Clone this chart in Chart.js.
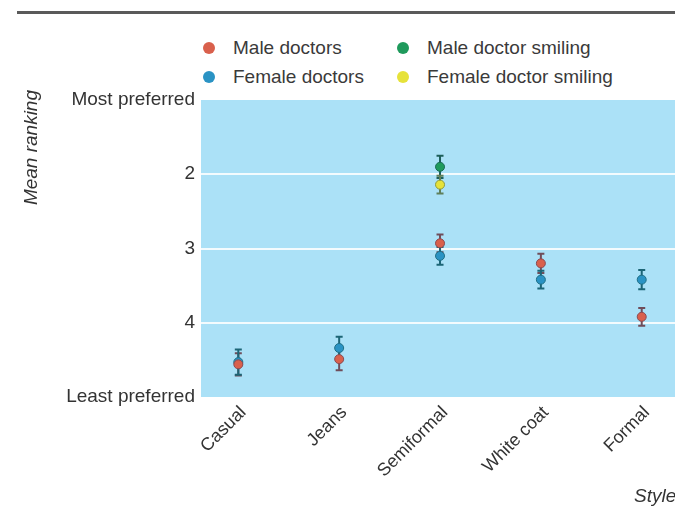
<!DOCTYPE html>
<html>
<head>
<meta charset="utf-8">
<script src="https://cdn.jsdelivr.net/npm/chart.js@4.4.1/dist/chart.umd.min.js"></script>
<style>
  html, body { margin: 0; padding: 0; background: #ffffff; }
  #wrap { position: relative; width: 675px; height: 508px; overflow: hidden; }
  #rule { position: absolute; left: 17px; top: 11px; width: 658px; height: 3px; background: #5a5a5a; }
  #legend { position: absolute; left: 203px; top: 36px; display: grid;
            grid-template-columns: 194px 260px; row-gap: 5px;
            font-family: "Liberation Sans", Arial, sans-serif;
            font-size: 19px; color: #3a3a3a; }
  .item { display: flex; align-items: center; height: 24px; white-space: nowrap; }
  .dot { width: 12px; height: 12px; border-radius: 50%; margin-right: 18px; }
  canvas { position: absolute; left: 0; top: 0; }
</style>
</head>
<body>
<div id="wrap">
  <div id="rule"></div>
  <div id="legend"></div>
  <canvas id="c" width="675" height="508"></canvas>
</div>
<script>
// Clothing styles along the x axis
const categories = ["Casual", "Jeans", "Semiformal", "White coat", "Formal"];

// Mean ranking (1 = most preferred, 5 = least preferred) and error half-widths
const maleDoctors      = [4.56, 4.49, 2.93, 3.20, 3.92];
const maleDoctorsErr   = [0.15, 0.15, 0.12, 0.13, 0.12];
const femaleDoctors    = [4.53, 4.34, 3.10, 3.42, 3.42];
const femaleDoctorsErr = [0.17, 0.15, 0.12, 0.12, 0.13];
const maleSmiling      = [null, null, 1.90, null, null];
const maleSmilingErr   = [null, null, 0.15, null, null];
const femaleSmiling    = [null, null, 2.14, null, null];
const femaleSmilingErr = [null, null, 0.12, null, null];

// Labels shown on the ranking axis, for values 1..5
const yTickLabels = ["Most preferred", "2", "3", "4", "Least preferred"];

const FONT = '"Liberation Sans", Arial, sans-serif';
const TEXT = "#333333";

function points(vals, errs) {
  const out = [];
  vals.forEach((v, i) => { if (v !== null) out.push({ x: i, y: v, err: errs[i] }); });
  return out;
}

const series = [
  { label: "Male doctors",          vals: maleDoctors,   errs: maleDoctorsErr,   fill: "#d9604c", edge: "#8a4a52", bar: "#6f4d5a" },
  { label: "Female doctors",        vals: femaleDoctors, errs: femaleDoctorsErr, fill: "#2a93c4", edge: "#1f6f86", bar: "#1c6576" },
  { label: "Male doctor smiling",   vals: maleSmiling,   errs: maleSmilingErr,   fill: "#1f9a5c", edge: "#1a6a55", bar: "#1d5f5a" },
  { label: "Female doctor smiling", vals: femaleSmiling, errs: femaleSmilingErr, fill: "#e6e23a", edge: "#8f9a3c", bar: "#5f7f5a" }
];

// Legend: two columns, male entries on the first row
const legendOrder = [0, 2, 1, 3];
const legendEl = document.getElementById("legend");
legendOrder.forEach(k => {
  const s = series[k];
  const item = document.createElement("div");
  item.className = "item";
  const dot = document.createElement("span");
  dot.className = "dot";
  dot.style.background = s.fill;
  item.appendChild(dot);
  item.appendChild(document.createTextNode(s.label));
  legendEl.appendChild(item);
});

// Light blue plot background
const plotBackground = {
  id: "plotBackground",
  beforeDraw(chart) {
    const { ctx, chartArea: a } = chart;
    ctx.save();
    ctx.fillStyle = "#abe1f7";
    ctx.fillRect(a.left, a.top, a.right - a.left, a.bottom - a.top);
    ctx.restore();
  }
};

// Vertical error bars with caps, drawn under the markers
const errorBars = {
  id: "errorBars",
  beforeDatasetsDraw(chart) {
    const { ctx, scales: { x, y } } = chart;
    ctx.save();
    chart.data.datasets.forEach(ds => {
      ctx.strokeStyle = ds.barColor;
      ctx.lineWidth = 2;
      ds.data.forEach(p => {
        const px = x.getPixelForValue(p.x);
        const top = y.getPixelForValue(p.y - p.err);
        const bot = y.getPixelForValue(p.y + p.err);
        ctx.beginPath();
        ctx.moveTo(px, top); ctx.lineTo(px, bot);
        ctx.moveTo(px - 3.5, top); ctx.lineTo(px + 3.5, top);
        ctx.moveTo(px - 3.5, bot); ctx.lineTo(px + 3.5, bot);
        ctx.stroke();
      });
    });
    ctx.restore();
  }
};

// Axis titles: rotated italic on the left, "Style" at the bottom right
const axisTitles = {
  id: "axisTitles",
  afterDraw(chart) {
    const { ctx } = chart;
    ctx.save();
    ctx.fillStyle = TEXT;
    ctx.font = "italic 19px " + FONT;
    ctx.translate(37, 90);
    ctx.rotate(-Math.PI / 2);
    ctx.textAlign = "right";
    ctx.textBaseline = "alphabetic";
    ctx.fillText("Mean ranking", 0, 0);
    ctx.restore();

    ctx.save();
    ctx.fillStyle = TEXT;
    ctx.font = "italic 19px " + FONT;
    ctx.textAlign = "left";
    ctx.textBaseline = "alphabetic";
    ctx.fillText("Style", 634, 502);
    ctx.restore();
  }
};

new Chart(document.getElementById("c"), {
  type: "scatter",
  data: {
    datasets: series.map(s => ({
      label: s.label,
      data: points(s.vals, s.errs),
      backgroundColor: s.fill,
      borderColor: s.edge,
      borderWidth: 1,
      pointRadius: 4.5,
      barColor: s.bar
    }))
  },
  options: {
    responsive: false,
    animation: false,
    layout: { autoPadding: false, padding: { top: 100, right: 0, bottom: 0, left: 0 } },
    plugins: { legend: { display: false }, tooltip: { enabled: false } },
    scales: {
      x: {
        type: "linear",
        min: -0.37,
        max: 4.33,
        afterFit(scale) { scale.height = 111; scale.paddingLeft = 0; scale.paddingRight = 0; },
        afterBuildTicks(scale) { scale.ticks = categories.map((_, i) => ({ value: i })); },
        grid: { display: false },
        border: { display: false },
        ticks: {
          autoSkip: false,
          minRotation: 45,
          maxRotation: 45,
          padding: -3,
          labelOffset: 5,
          color: TEXT,
          font: { family: FONT, size: 18 },
          callback: v => categories[v]
        }
      },
      y: {
        reverse: true,
        min: 1,
        max: 5,
        afterFit(scale) { scale.width = 201; scale.paddingTop = 0; scale.paddingBottom = 0; },
        afterBuildTicks(scale) { scale.ticks = yTickLabels.map((_, i) => ({ value: i + 1 })); },
        border: { display: false },
        grid: {
          drawTicks: false,
          lineWidth: 2,
          color: c => (c.tick && c.tick.value > 1 && c.tick.value < 5) ? "rgba(255,255,255,0.85)" : "rgba(0,0,0,0)"
        },
        ticks: {
          padding: 6,
          color: TEXT,
          font: { family: FONT, size: 19 },
          callback: v => yTickLabels[v - 1]
        }
      }
    }
  },
  plugins: [plotBackground, errorBars, axisTitles]
});
</script>
</body>
</html>
